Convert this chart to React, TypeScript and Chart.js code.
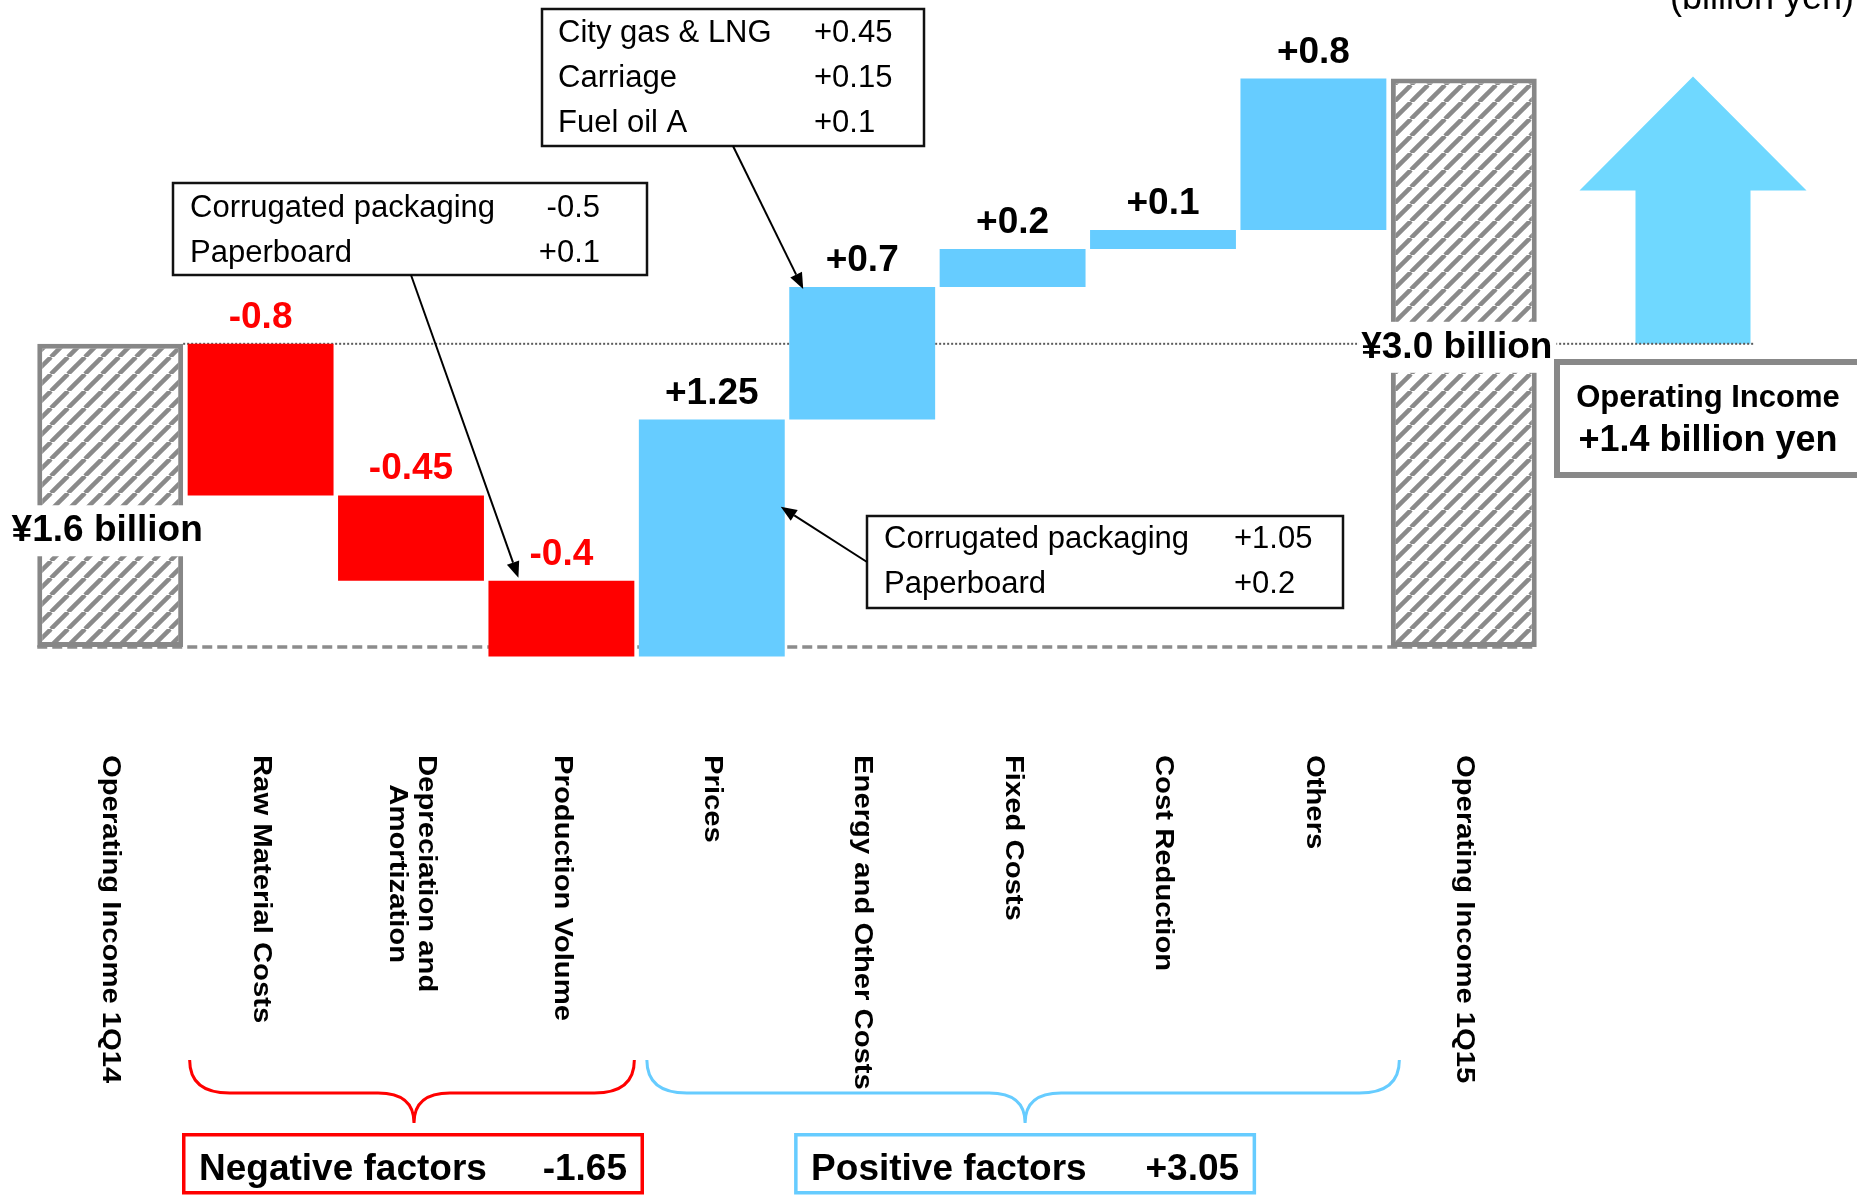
import React, { useEffect, useRef } from "react";
import { Chart, registerables } from "chart.js";

Chart.register(...registerables);

// ---------------- data ----------------
const categories: (string | string[])[] = [
  "Operating Income 1Q14",
  "Raw Material Costs",
  ["Depreciation and", "Amortization"],
  "Production Volume",
  "Prices",
  "Energy and Other Costs",
  "Fixed Costs",
  "Cost Reduction",
  "Others",
  "Operating Income 1Q15",
];
const startValue = 1.6;
const endValue = 3.0;
const deltas = [-0.8, -0.45, -0.4, 1.25, 0.7, 0.2, 0.1, 0.8];
const startLabel = "¥1.6 billion";
const endLabel = "¥3.0 billion";
const unitLabel = "(billion yen)";
const volumeBreakdown = [
  ["Corrugated packaging", "-0.5"],
  ["Paperboard", "+0.1"],
];
const energyBreakdown = [
  ["City gas & LNG", "+0.45"],
  ["Carriage", "+0.15"],
  ["Fuel oil A", "+0.1"],
];
const pricesBreakdown = [
  ["Corrugated packaging", "+1.05"],
  ["Paperboard", "+0.2"],
];
const summaryTitle = "Operating Income";
const summaryText = "+1.4 billion yen";
const negativeTitle = "Negative factors";
const positiveTitle = "Positive factors";

// ---------------- derived ----------------
const r2 = (v: number) => Math.round(v * 100) / 100;
const bars: [number, number][] = [];
bars.push([0, startValue]);
{
  let lvl = startValue;
  for (const d of deltas) {
    const next = r2(lvl + d);
    bars.push([Math.min(lvl, next), Math.max(lvl, next)]);
    lvl = next;
  }
}
bars.push([0, endValue]);
const negSum = r2(deltas.filter((d) => d < 0).reduce((a, b) => a + b, 0));
const posSum = r2(deltas.filter((d) => d > 0).reduce((a, b) => a + b, 0));
const fmt = (d: number) => (d > 0 ? "+" + d : String(d));

const RED = "#ff0000";
const BLUE = "#66ccff";
const ARROW = "#6fd8ff";
const GRAY = "#878787";
const FONT = '"Liberation Sans", Arial, Helvetica, sans-serif';

function makeHatch(): CanvasPattern | string {
  const s = 17;
  const c = document.createElement("canvas");
  c.width = s;
  c.height = s;
  const g = c.getContext("2d");
  if (!g) return "#ffffff";
  g.fillStyle = "#ffffff";
  g.fillRect(0, 0, s, s);
  g.strokeStyle = "#8a8a8a";
  g.lineWidth = 4.5;
  for (let k = -1; k <= 1; k++) {
    g.beginPath();
    g.moveTo(k * s, s);
    g.lineTo(k * s + s, 0);
    g.stroke();
  }
  const p = g.createPattern(c, "repeat");
  return p || "#ffffff";
}

function arrowLine(ctx: CanvasRenderingContext2D, x1: number, y1: number, x2: number, y2: number) {
  ctx.save();
  ctx.strokeStyle = "#000";
  ctx.fillStyle = "#000";
  ctx.lineWidth = 2;
  const ang = Math.atan2(y2 - y1, x2 - x1);
  const L = 16;
  const W = 6.5;
  const bx = x2 - L * Math.cos(ang);
  const by = y2 - L * Math.sin(ang);
  ctx.beginPath();
  ctx.moveTo(x1, y1);
  ctx.lineTo(bx, by);
  ctx.stroke();
  ctx.beginPath();
  ctx.moveTo(x2, y2);
  ctx.lineTo(bx + W * Math.sin(ang), by - W * Math.cos(ang));
  ctx.lineTo(bx - W * Math.sin(ang), by + W * Math.cos(ang));
  ctx.closePath();
  ctx.fill();
  ctx.restore();
}

function callout(
  ctx: CanvasRenderingContext2D,
  left: number,
  top: number,
  w: number,
  h: number,
  rows: string[][],
  textX: number,
  valX: number,
  valAlign: CanvasTextAlign,
  baselines: number[]
) {
  ctx.save();
  ctx.fillStyle = "#fff";
  ctx.fillRect(left, top, w, h);
  ctx.strokeStyle = "#111";
  ctx.lineWidth = 2.5;
  ctx.strokeRect(left, top, w, h);
  ctx.fillStyle = "#000";
  ctx.font = `31px ${FONT}`;
  ctx.textBaseline = "alphabetic";
  rows.forEach((r, i) => {
    ctx.textAlign = "left";
    ctx.fillText(r[0], textX, baselines[i]);
    ctx.textAlign = valAlign;
    ctx.fillText(r[1], valX, baselines[i]);
  });
  ctx.restore();
}

function brace(ctx: CanvasRenderingContext2D, L: number, R: number, color: string) {
  const top = 1060;
  const mid = 1093;
  const tip = 1123;
  const C = (L + R) / 2 + 2;
  const rx = 40;
  const rc = 36;
  ctx.save();
  ctx.strokeStyle = color;
  ctx.lineWidth = 3;
  ctx.beginPath();
  ctx.moveTo(L, top);
  ctx.quadraticCurveTo(L, mid, L + rx, mid);
  ctx.lineTo(C - rc, mid);
  ctx.quadraticCurveTo(C, mid, C, tip);
  ctx.quadraticCurveTo(C, mid, C + rc, mid);
  ctx.lineTo(R - rx, mid);
  ctx.quadraticCurveTo(R, mid, R, top);
  ctx.stroke();
  ctx.restore();
}

function factorBox(ctx: CanvasRenderingContext2D, cx: number, color: string, title: string, value: string) {
  const w = 462;
  const left = cx - w / 2;
  ctx.save();
  ctx.strokeStyle = color;
  ctx.lineWidth = 3.5;
  ctx.strokeRect(left + 1.75, 1134.75, w - 3.5, 58);
  ctx.fillStyle = "#000";
  ctx.font = `bold 37px ${FONT}`;
  ctx.textBaseline = "alphabetic";
  ctx.textAlign = "left";
  ctx.fillText(title, left + 17, 1180);
  ctx.textAlign = "right";
  ctx.fillText(value, left + w - 17, 1180);
  ctx.restore();
}

const annotationPlugin = {
  id: "waterfallAnnotations",
  beforeDatasetsDraw(chart: any) {
    const ctx: CanvasRenderingContext2D = chart.ctx;
    const xs = chart.scales.x;
    const ys = chart.scales.y;
    const ca = chart.chartArea;
    const step = xs.getPixelForValue(1) - xs.getPixelForValue(0);
    const half = (step * 0.97) / 2;
    const ax = ca.right + 154;
    const yTop = ys.getPixelForValue(endValue) - 2;
    const yBot = ys.getPixelForValue(startValue);
    const y0 = ys.getPixelForValue(0);
    ctx.save();
    // big arrow
    ctx.fillStyle = ARROW;
    ctx.beginPath();
    ctx.moveTo(ax, yTop);
    ctx.lineTo(ax + 113.5, yTop + 114);
    ctx.lineTo(ax + 57.5, yTop + 114);
    ctx.lineTo(ax + 57.5, yBot);
    ctx.lineTo(ax - 57.5, yBot);
    ctx.lineTo(ax - 57.5, yTop + 114);
    ctx.lineTo(ax - 113.5, yTop + 114);
    ctx.closePath();
    ctx.fill();
    // dotted reference line at start level
    ctx.strokeStyle = "#5a5a5a";
    ctx.lineWidth = 2;
    ctx.setLineDash([2, 2]);
    ctx.beginPath();
    ctx.moveTo(xs.getPixelForValue(0) + half, yBot);
    ctx.lineTo(ax + 62, yBot);
    ctx.stroke();
    // dashed zero baseline
    ctx.strokeStyle = "#8c8c8c";
    ctx.lineWidth = 3.5;
    ctx.setLineDash([10, 5]);
    ctx.beginPath();
    ctx.moveTo(xs.getPixelForValue(0) - half, y0);
    ctx.lineTo(xs.getPixelForValue(categories.length - 1) + half, y0);
    ctx.stroke();
    ctx.restore();
  },
  afterDatasetsDraw(chart: any) {
    const ctx: CanvasRenderingContext2D = chart.ctx;
    const xs = chart.scales.x;
    const ys = chart.scales.y;
    const ca = chart.chartArea;
    const step = xs.getPixelForValue(1) - xs.getPixelForValue(0);
    const half = (step * 0.97) / 2;
    const px = (i: number) => xs.getPixelForValue(i);
    const py = (v: number) => ys.getPixelForValue(v);

    ctx.save();
    // value labels
    ctx.font = `bold 37px ${FONT}`;
    ctx.textAlign = "center";
    ctx.textBaseline = "alphabetic";
    deltas.forEach((d, k) => {
      const i = k + 1;
      const topV = bars[i][1];
      ctx.fillStyle = d < 0 ? RED : "#000";
      ctx.fillText(fmt(d), px(i), py(topV) - 16);
    });

    // start / end labels on white
    const labelOnWhite = (text: string, cx: number, cy: number) => {
      ctx.font = `bold 37px ${FONT}`;
      const w = ctx.measureText(text).width;
      ctx.fillStyle = "#fff";
      ctx.fillRect(cx - w / 2 - 4, cy - 25, w + 8, 51);
      ctx.fillStyle = "#000";
      ctx.textAlign = "center";
      ctx.textBaseline = "middle";
      ctx.fillText(text, cx, cy + 1);
    };
    labelOnWhite(startLabel, px(0) - 3, py(startValue * 0.385));
    labelOnWhite(endLabel, px(categories.length - 1) - 7, py(startValue) + 3);

    // callouts
    callout(ctx, 173, 183, 474, 92, volumeBreakdown, 190, 600, "right", [217, 262]);
    callout(ctx, 542, 9, 382, 137, energyBreakdown, 558, 814, "left", [42, 87, 132]);
    callout(ctx, 867, 516, 476, 92, pricesBreakdown, 884, 1234, "left", [548, 593]);
    arrowLine(ctx, 411, 275, px(3) - 43, py(bars[3][1]) - 3);
    arrowLine(ctx, 733, 146, px(5) - 59, py(bars[5][1]) + 2);
    arrowLine(ctx, 867, 562, px(4) + half - 4, py(bars[4][1] - 0.46));

    // summary box
    const sx = ca.right + 18;
    ctx.fillStyle = "#fff";
    ctx.fillRect(sx, 362, 330, 113);
    ctx.strokeStyle = "#888";
    ctx.lineWidth = 6;
    ctx.strokeRect(sx, 362, 330, 113);
    ctx.fillStyle = "#000";
    ctx.textAlign = "center";
    ctx.textBaseline = "alphabetic";
    ctx.font = `bold 31px ${FONT}`;
    ctx.fillText(summaryTitle, sx + 151, 407);
    ctx.font = `bold 36px ${FONT}`;
    ctx.fillText(summaryText, sx + 151, 451);

    // unit label
    ctx.font = `36px ${FONT}`;
    ctx.textAlign = "left";
    ctx.fillText(unitLabel, 1670, 9);

    // rotated category labels (horizontally stretched bold text)
    ctx.font = `bold 25px ${FONT}`;
    const stretch = 1.17;
    categories.forEach((c, i) => {
      const lines = Array.isArray(c) ? c : [c];
      const W = Math.max(...lines.map((l) => ctx.measureText(l).width));
      ctx.save();
      ctx.translate(px(i), 755);
      ctx.rotate(Math.PI / 2);
      ctx.scale(stretch, 1);
      ctx.textAlign = "center";
      ctx.textBaseline = "middle";
      ctx.fillStyle = "#000";
      lines.forEach((l, k) => {
        const ly = (k - (lines.length - 1) / 2) * 29;
        ctx.fillText(l, W / 2, ly);
      });
      ctx.restore();
    });

    // braces and factor boxes
    const nL = px(1) - half + 2;
    const nR = px(3) + half;
    const pL = px(4) - half + 8;
    const pR = px(8) + half + 13;
    brace(ctx, nL, nR, RED);
    brace(ctx, pL, pR, BLUE);
    factorBox(ctx, (nL + nR) / 2 + 1, RED, negativeTitle, fmt(negSum));
    factorBox(ctx, (pL + pR) / 2 + 2, BLUE, positiveTitle, fmt(posSum));
    ctx.restore();
  },
};

export default function App() {
  const ref = useRef<HTMLCanvasElement | null>(null);
  useEffect(() => {
    document.body.style.margin = "0";
    const canvas = ref.current;
    if (!canvas) return;
    const hatch = makeHatch();
    const n = categories.length;
    const bg = bars.map((_, i) =>
      i === 0 || i === n - 1 ? hatch : deltas[i - 1] < 0 ? RED : BLUE
    );
    const bw = bars.map((_, i) => (i === 0 || i === n - 1 ? 5 : 0));
    const chart = new Chart(canvas, {
      type: "bar",
      data: {
        labels: categories.map((c) => (Array.isArray(c) ? c.join(" ") : c)),
        datasets: [
          {
            data: bars as any,
            backgroundColor: bg as any,
            borderColor: GRAY,
            borderWidth: bw,
            borderSkipped: false,
            categoryPercentage: 1,
            barPercentage: 0.97,
          },
        ],
      },
      options: {
        animation: false,
        responsive: false,
        devicePixelRatio: 1,
        layout: { padding: { left: 35, right: 318, top: 2.7, bottom: 491.15 } },
        plugins: { legend: { display: false }, tooltip: { enabled: false } },
        scales: {
          x: { display: false, grid: { display: false } },
          y: { display: false, min: -0.3, max: 3.4, grid: { display: false } },
        },
      },
      plugins: [annotationPlugin],
    });
    return () => chart.destroy();
  }, []);
  return (
    <div style={{ position: "absolute", left: 0, top: 0, width: 1857, height: 1195, background: "#fff" }}>
      <canvas ref={ref} width={1857} height={1195} style={{ display: "block" }} />
    </div>
  );
}
